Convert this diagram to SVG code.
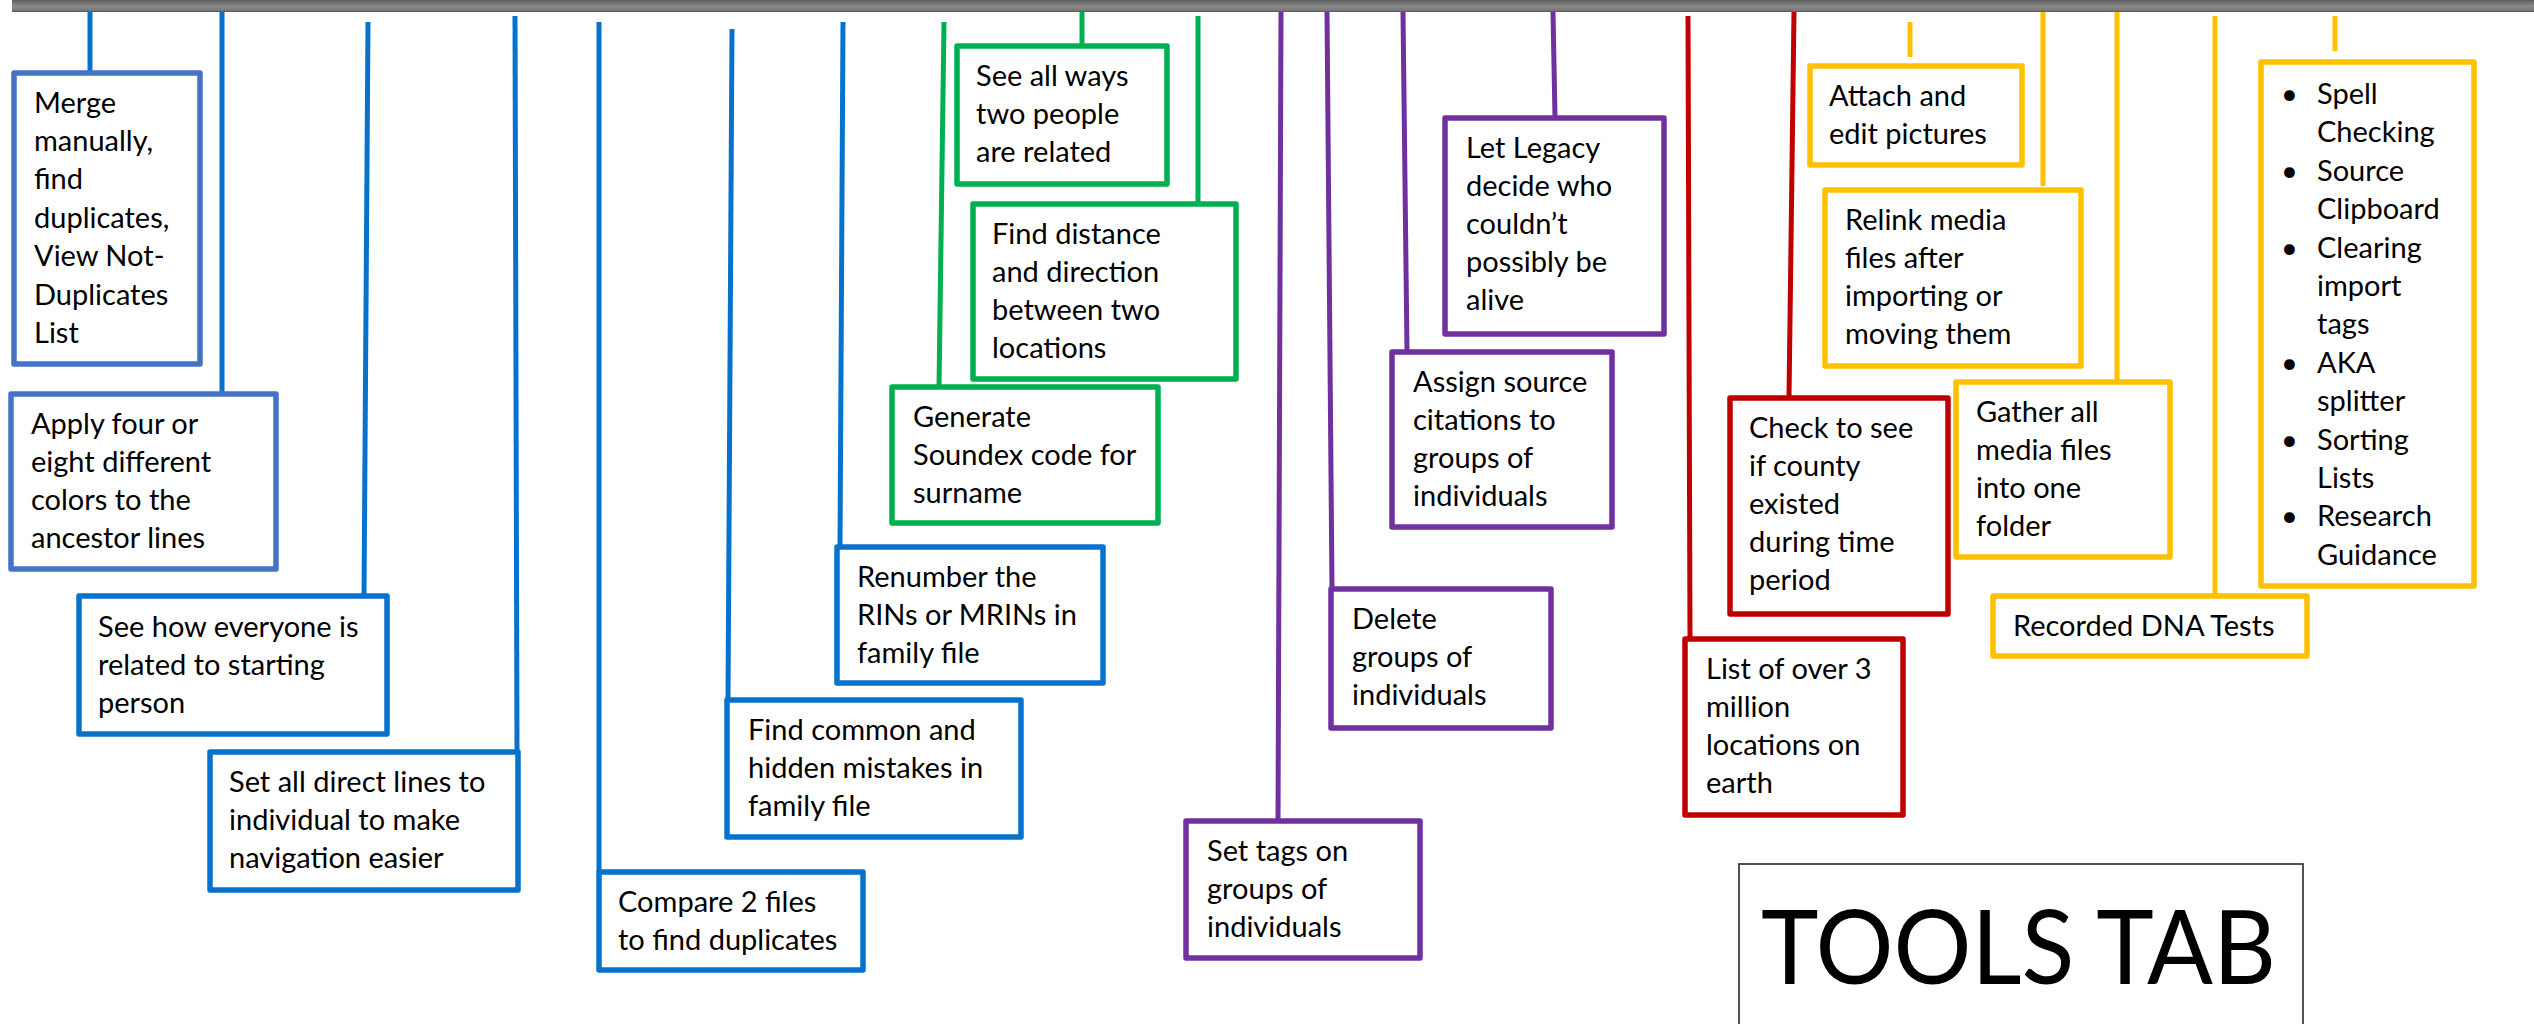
<svg xmlns="http://www.w3.org/2000/svg" width="2534" height="1024" viewBox="0 0 2534 1024">
<defs>
<linearGradient id="bar" x1="0" y1="0" x2="0" y2="1">
<stop offset="0" stop-color="#5e5e5e"/>
<stop offset="0.5" stop-color="#8a8a8a"/>
<stop offset="0.85" stop-color="#7a7a7a"/>
<stop offset="1" stop-color="#555"/>
</linearGradient>
</defs>
<style>
text{font-family:Lato,'Liberation Sans',sans-serif;font-size:29px;fill:#000}
.box{fill:#fff;stroke-width:5.5;stroke-linejoin:round}
.ln{stroke-width:5;fill:none}
.b1{stroke:#4472C4}
.b{stroke:#0672CC}
.g{stroke:#00B050}
.p{stroke:#7030A0}
.r{stroke:#C00000}
.y{stroke:#FFC000}
.tt{fill:#fff;stroke:#333;stroke-width:1.7}
.big{font-size:103px}
</style>
<rect width="2534" height="1024" fill="#fff"/>
<rect x="12" y="0" width="2522" height="12" fill="url(#bar)"/>
<g id="connectors">
<line class="ln b" x1="90" y1="12" x2="90" y2="73"/>
<line class="ln b" x1="222" y1="12" x2="222" y2="394"/>
<line class="ln b" x1="368" y1="22" x2="364" y2="596"/>
<line class="ln b" x1="515" y1="16" x2="517" y2="752"/>
<line class="ln b" x1="599" y1="22" x2="599" y2="872"/>
<line class="ln b" x1="732" y1="29" x2="728" y2="700"/>
<line class="ln b" x1="843" y1="22" x2="840" y2="547"/>
<line class="ln g" x1="1082" y1="12" x2="1082" y2="46"/>
<line class="ln g" x1="1198" y1="16" x2="1198" y2="204"/>
<line class="ln g" x1="944" y1="22" x2="939" y2="387"/>
<line class="ln p" x1="1553" y1="12" x2="1555" y2="118"/>
<line class="ln p" x1="1403" y1="12" x2="1407" y2="352"/>
<line class="ln p" x1="1327" y1="12" x2="1332" y2="589"/>
<line class="ln p" x1="1281" y1="12" x2="1278" y2="821"/>
<line class="ln r" x1="1794" y1="12" x2="1789" y2="398"/>
<line class="ln r" x1="1688" y1="16" x2="1690" y2="639"/>
<line class="ln y" x1="1910" y1="22" x2="1910" y2="57"/>
<line class="ln y" x1="2043" y1="12" x2="2043" y2="186"/>
<line class="ln y" x1="2117" y1="12" x2="2117" y2="382"/>
<line class="ln y" x1="2215" y1="16" x2="2215" y2="596"/>
<line class="ln y" x1="2335" y1="16" x2="2335" y2="51"/>
</g>
<g id="merge">
<rect class="box b1" x="14" y="73" width="186" height="291"/>
<text><tspan x="34" y="113">Merge</tspan><tspan x="34" y="151">manually,</tspan><tspan x="34" y="189">find</tspan><tspan x="34" y="228">duplicates,</tspan><tspan x="34" y="266">View Not-</tspan><tspan x="34" y="305">Duplicates</tspan><tspan x="34" y="343">List</tspan></text>
</g>
<g id="apply-colors">
<rect class="box b1" x="11" y="394" width="265" height="175"/>
<text><tspan x="31" y="434">Apply four or</tspan><tspan x="31" y="472">eight different</tspan><tspan x="31" y="510">colors to the</tspan><tspan x="31" y="548">ancestor lines</tspan></text>
</g>
<g id="see-how">
<rect class="box b" x="79" y="596" width="308" height="138"/>
<text><tspan x="98" y="637">See how everyone is</tspan><tspan x="98" y="675">related to starting</tspan><tspan x="98" y="713">person</tspan></text>
</g>
<g id="direct-lines">
<rect class="box b" x="210" y="752" width="308" height="138"/>
<text><tspan x="229" y="792">Set all direct lines to</tspan><tspan x="229" y="830">individual to make</tspan><tspan x="229" y="868">navigation easier</tspan></text>
</g>
<g id="compare">
<rect class="box b" x="599" y="872" width="264" height="98"/>
<text><tspan x="618" y="912">Compare 2 files</tspan><tspan x="618" y="950">to find duplicates</tspan></text>
</g>
<g id="find-common">
<rect class="box b" x="727" y="700" width="294" height="137"/>
<text><tspan x="748" y="740">Find common and</tspan><tspan x="748" y="778">hidden mistakes in</tspan><tspan x="748" y="816">family file</tspan></text>
</g>
<g id="renumber">
<rect class="box b" x="837" y="547" width="266" height="136"/>
<text><tspan x="857" y="587">Renumber the</tspan><tspan x="857" y="625">RINs or MRINs in</tspan><tspan x="857" y="663">family file</tspan></text>
</g>
<g id="see-all-ways">
<rect class="box g" x="957" y="46" width="210" height="138"/>
<text><tspan x="976" y="86">See all ways</tspan><tspan x="976" y="124">two people</tspan><tspan x="976" y="162">are related</tspan></text>
</g>
<g id="find-distance">
<rect class="box g" x="973" y="204" width="263" height="175"/>
<text><tspan x="992" y="244">Find distance</tspan><tspan x="992" y="282">and direction</tspan><tspan x="992" y="320">between two</tspan><tspan x="992" y="358">locations</tspan></text>
</g>
<g id="soundex">
<rect class="box g" x="892" y="387" width="266" height="136"/>
<text><tspan x="913" y="427">Generate</tspan><tspan x="913" y="465">Soundex code for</tspan><tspan x="913" y="503">surname</tspan></text>
</g>
<g id="let-legacy">
<rect class="box p" x="1445" y="118" width="219" height="216"/>
<text><tspan x="1466" y="158">Let Legacy</tspan><tspan x="1466" y="196">decide who</tspan><tspan x="1466" y="234">couldn’t</tspan><tspan x="1466" y="272">possibly be</tspan><tspan x="1466" y="310">alive</tspan></text>
</g>
<g id="assign-source">
<rect class="box p" x="1392" y="352" width="220" height="175"/>
<text><tspan x="1413" y="392">Assign source</tspan><tspan x="1413" y="430">citations to</tspan><tspan x="1413" y="468">groups of</tspan><tspan x="1413" y="506">individuals</tspan></text>
</g>
<g id="delete-groups">
<rect class="box p" x="1331" y="589" width="220" height="139"/>
<text><tspan x="1352" y="629">Delete</tspan><tspan x="1352" y="667">groups of</tspan><tspan x="1352" y="705">individuals</tspan></text>
</g>
<g id="set-tags">
<rect class="box p" x="1186" y="821" width="234" height="137"/>
<text><tspan x="1207" y="861">Set tags on</tspan><tspan x="1207" y="899">groups of</tspan><tspan x="1207" y="937">individuals</tspan></text>
</g>
<g id="check-county">
<rect class="box r" x="1730" y="398" width="218" height="216"/>
<text><tspan x="1749" y="438">Check to see</tspan><tspan x="1749" y="476">if county</tspan><tspan x="1749" y="514">existed</tspan><tspan x="1749" y="552">during time</tspan><tspan x="1749" y="590">period</tspan></text>
</g>
<g id="list-locations">
<rect class="box r" x="1685" y="639" width="218" height="176"/>
<text><tspan x="1706" y="679">List of over 3</tspan><tspan x="1706" y="717">million</tspan><tspan x="1706" y="755">locations on</tspan><tspan x="1706" y="793">earth</tspan></text>
</g>
<g id="attach-pictures">
<rect class="box y" x="1810" y="66" width="212" height="99"/>
<text><tspan x="1829" y="106">Attach and</tspan><tspan x="1829" y="144">edit pictures</tspan></text>
</g>
<g id="relink-media">
<rect class="box y" x="1825" y="190" width="256" height="176"/>
<text><tspan x="1845" y="230">Relink media</tspan><tspan x="1845" y="268">files after</tspan><tspan x="1845" y="306">importing or</tspan><tspan x="1845" y="344">moving them</tspan></text>
</g>
<g id="gather-media">
<rect class="box y" x="1956" y="382" width="214" height="175"/>
<text><tspan x="1976" y="422">Gather all</tspan><tspan x="1976" y="460">media files</tspan><tspan x="1976" y="498">into one</tspan><tspan x="1976" y="536">folder</tspan></text>
</g>
<g id="dna-tests">
<rect class="box y" x="1993" y="596" width="314" height="60"/>
<text x="2013" y="636">Recorded DNA Tests</text>
</g>
<g id="misc-tools">
<rect class="box y" x="2261" y="62" width="213" height="524"/>
<text><tspan x="2281" y="104">•</tspan><tspan x="2281" y="180.8">•</tspan><tspan x="2281" y="257.6">•</tspan><tspan x="2281" y="372.8">•</tspan><tspan x="2281" y="449.6">•</tspan><tspan x="2281" y="526.4">•</tspan></text>
<text><tspan x="2317" y="104">Spell</tspan><tspan x="2317" y="142.4">Checking</tspan><tspan x="2317" y="180.8">Source</tspan><tspan x="2317" y="219.2">Clipboard</tspan><tspan x="2317" y="257.6">Clearing</tspan><tspan x="2317" y="296">import</tspan><tspan x="2317" y="334.4">tags</tspan><tspan x="2317" y="372.8">AKA</tspan><tspan x="2317" y="411.2">splitter</tspan><tspan x="2317" y="449.6">Sorting</tspan><tspan x="2317" y="488">Lists</tspan><tspan x="2317" y="526.4">Research</tspan><tspan x="2317" y="564.8">Guidance</tspan></text>
</g>
<g id="tools-tab">
<rect class="tt" x="1739" y="864" width="564" height="200"/>
<text class="big" x="1761" y="984" textLength="515" lengthAdjust="spacingAndGlyphs">TOOLS TAB</text>
</g>
</svg>
